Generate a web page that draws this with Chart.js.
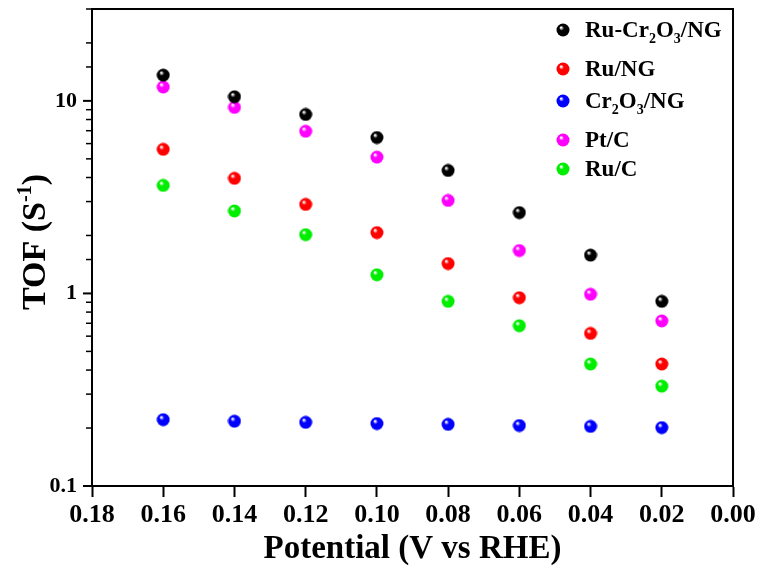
<!DOCTYPE html>
<html>
<head>
<meta charset="utf-8">
<script src="https://cdn.jsdelivr.net/npm/chart.js@4"></script>
<style>
  html, body { margin: 0; padding: 0; background: #fff; }
  #wrap { width: 761px; height: 569px; }
</style>
</head>
<body>
<div id="wrap"><canvas id="tofChart"></canvas></div>
<script>
// potential values (V vs RHE)
const potential = [0.16, 0.14, 0.12, 0.10, 0.08, 0.06, 0.04, 0.02];
// TOF values (S^-1)
const ruCr2O3NG = [13.6, 10.5, 8.5, 6.45, 4.35, 2.63, 1.58, 0.91];
const ruNG = [5.6, 3.96, 2.9, 2.07, 1.43, 0.95, 0.62, 0.43];
const cr2O3NG = [0.221, 0.217, 0.214, 0.211, 0.209, 0.206, 0.204, 0.201];
const ptC = [11.8, 9.25, 6.95, 5.1, 3.04, 1.67, 0.99, 0.72];
const ruC = [3.64, 2.68, 2.02, 1.25, 0.91, 0.68, 0.43, 0.33];
const xTicks = [0.18, 0.16, 0.14, 0.12, 0.10, 0.08, 0.06, 0.04, 0.02, 0.00];
const yLabels = [0.1, 1, 10];

const FONT = '"Liberation Serif", "Times New Roman", serif';

function isMajor(v){
    return yLabels.some(l => Math.abs(l - v) < 1e-9);
}

// shiny ball markers
function ball(color){
    const c = document.createElement('canvas');
    c.width = 14; c.height = 14;
    const g = c.getContext('2d');
    const grad = g.createRadialGradient(5, 4.5, 0.5, 7, 7, 7);
    grad.addColorStop(0, '#ffffff');
    grad.addColorStop(0.3, color);
    grad.addColorStop(1, color);
    g.fillStyle = grad;
    g.beginPath();
    g.arc(7, 7, 6.5, 0, Math.PI * 2);
    g.fill();
    return c;
}

const series = [
    {label: [['Ru-Cr',0],['2',1],['O',0],['3',1],['/NG',0]], data: ruCr2O3NG, color: '#000000'},
    {label: [['Ru/NG',0]], data: ruNG, color: '#ff0000'},
    {label: [['Cr',0],['2',1],['O',0],['3',1],['/NG',0]], data: cr2O3NG, color: '#0000ff'},
    {label: [['Pt/C',0]], data: ptC, color: '#ff00ff'},
    {label: [['Ru/C',0]], data: ruC, color: '#00ee00'}
];

const datasets = series.map(s => {
    const img = ball(s.color);
    s.img = img;
    return {
        label: s.label.map(p => p[0]).join(''),
        data: potential.map((x, i) => ({x: x, y: s.data[i]})),
        pointStyle: img,
        pointRadius: 7,
        pointHoverRadius: 7,
        backgroundColor: s.color,
        borderColor: s.color,
        showLine: false
    };
});

const decorations = {
    id: 'decorations',
    afterDraw(chart){
        const ctx = chart.ctx;
        const a = chart.chartArea;
        ctx.save();
        // frame
        ctx.strokeStyle = '#000';
        ctx.lineWidth = 2;
        ctx.strokeRect(a.left, a.top, a.right - a.left, a.bottom - a.top);
        // y ticks (major & minor)
        const ys = chart.scales.y;
        ys.ticks.forEach(t => {
            const py = ys.getPixelForValue(t.value);
            if (py < a.top - 1) return;
            const major = isMajor(t.value);
            ctx.beginPath();
            ctx.moveTo(a.left, py);
            ctx.lineTo(a.left - (major ? 9 : 6), py);
            ctx.lineWidth = major ? 2 : 1.5;
            ctx.stroke();
        });
        // y title with superscript
        ctx.translate(36, 242);
        ctx.rotate(-Math.PI / 2);
        ctx.fillStyle = '#000';
        ctx.textBaseline = 'middle';
        const parts = [['TOF (S',0],['-1',2],[')',0]];
        let w = 0;
        parts.forEach(p => {
            ctx.font = (p[1] ? 'bold 20px ' : 'bold 34px ') + FONT;
            w += ctx.measureText(p[0]).width;
        });
        let x = -w / 2;
        parts.forEach(p => {
            ctx.font = (p[1] ? 'bold 20px ' : 'bold 34px ') + FONT;
            ctx.fillText(p[0], x, p[1] ? -10 : 0);
            x += ctx.measureText(p[0]).width;
        });
        ctx.restore();

        // legend
        ctx.save();
        ctx.fillStyle = '#000';
        ctx.textBaseline = 'middle';
        const rows = [30, 69, 101, 140, 169];
        series.forEach((s, i) => {
            const y = rows[i];
            ctx.drawImage(s.img, 556, y - 7, 14, 14);
            let tx = 585;
            s.label.forEach(p => {
                ctx.font = (p[1] ? 'bold 14px ' : 'bold 23px ') + FONT;
                ctx.fillText(p[0], tx, p[1] ? y + 9 : y + 1);
                tx += ctx.measureText(p[0]).width;
            });
        });
        ctx.restore();
    }
};

new Chart(document.getElementById('tofChart').getContext('2d'), {
    type: 'scatter',
    data: {datasets: datasets},
    plugins: [decorations],
    options: {
        responsive: true,
        maintainAspectRatio: false,
        animation: false,
        layout: {padding: {top: 9, right: 28, bottom: 0, left: 0}},
        plugins: {legend: {display: false}, tooltip: {enabled: false}},
        scales: {
            x: {
                type: 'linear',
                reverse: true,
                min: 0,
                max: 0.18,
                afterBuildTicks: (scale) => { scale.ticks = xTicks.map(v => ({value: v})); },
                afterFit: (scale) => { scale.height = 83; },
                ticks: {
                    color: '#000',
                    padding: 3,
                    font: {family: FONT, size: 26, weight: 'bold'},
                    callback: (v) => Number(v).toFixed(2)
                },
                grid: {drawOnChartArea: false, drawTicks: true, tickLength: 11, tickWidth: 2, tickColor: '#000'},
                border: {display: true, color: '#000', width: 2},
                title: {
                    display: true,
                    text: 'Potential (V vs RHE)',
                    color: '#000',
                    font: {family: FONT, size: 33, weight: 'bold'},
                    padding: {top: 0, bottom: 0}
                }
            },
            y: {
                type: 'logarithmic',
                min: 0.1,
                max: 30,
                afterFit: (scale) => {
                    scale.width = 92;
                    scale.paddingTop = 0;
                    scale.paddingBottom = 0;
                },
                ticks: {
                    color: '#000',
                    padding: 15,
                    autoSkip: false,
                    font: {family: FONT, size: 22, weight: 'bold'},
                    callback: (v) => isMajor(v) ? String(v) : ''
                },
                grid: {drawOnChartArea: false, drawTicks: false},
                border: {display: true, color: '#000', width: 2}
            }
        }
    }
});
</script>
</body>
</html>
